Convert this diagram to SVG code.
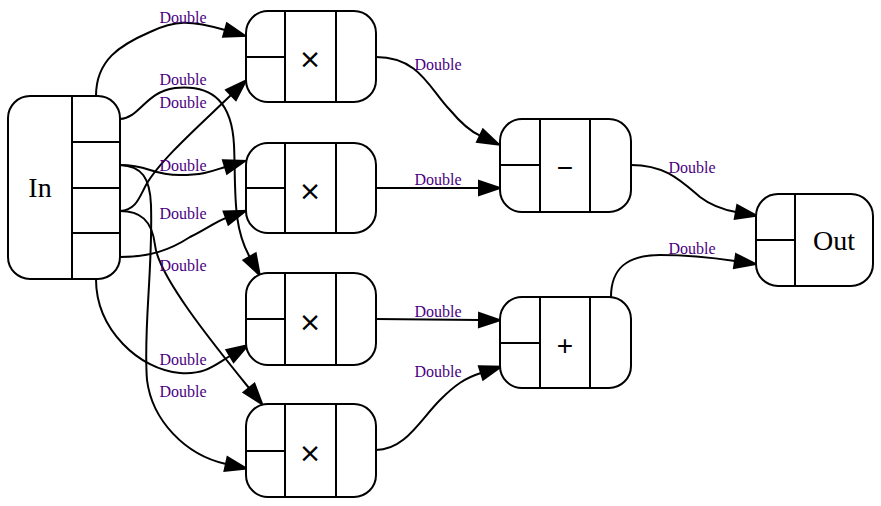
<svg xmlns="http://www.w3.org/2000/svg" width="881" height="506" viewBox="0 0 881 506">
<style>
.box{fill:#fff;stroke:#000;stroke-width:2}
.div{stroke:#000;stroke-width:2;fill:none}
.e{fill:none;stroke:#000;stroke-width:2;marker-end:url(#ah)}
.lbl{font-family:"Liberation Serif",serif;font-size:16px;fill:#4B0082;text-anchor:middle}
.big{font-family:"Liberation Serif",serif;font-size:28px;fill:#000;text-anchor:middle}
.op{font-family:"Liberation Sans",Arial,sans-serif;font-size:28px;fill:#000;text-anchor:middle}
.mul{font-family:"DejaVu Sans",sans-serif;font-size:27px;fill:#000;text-anchor:middle}
</style>
<defs>
<marker id="ah" markerUnits="userSpaceOnUse" markerWidth="24" markerHeight="18" refX="1" refY="8" orient="auto" viewBox="0 0 24 16" overflow="visible">
<path d="M1,1 L22,8 L1,15 z" fill="#000" stroke="#000" stroke-width="2"/>
</marker>
</defs>
<rect width="881" height="506" fill="#fff"/>

<g id="connectors">
<path class="e" d="M96,96 C96,60 120,45 150,32 C175,20 190,20 225,30"/>
<path class="e" d="M120,119 C140,118 145,92 175,88 C215,84 232,105 234,145 C236,190 232,225 249.6,256.8"/>
<path class="e" d="M120,211 C136,210 139,198 146,185 C160,160 200,125 231,95"/>
<path class="e" d="M120,165 C150,165 150,175 180,175 C205,175 215,170 225,167"/>
<path class="e" d="M120,165 C142,166 150,178 151,205 C153,270 143,330 147,380 C152,420 185,455 226,464"/>
<path class="e" d="M120,211 C140,211 152,220 155,245 C158,275 210,340 249,388"/>
<path class="e" d="M120,257 C150,257 170,250 190,237 C205,230 215,222 226,218"/>
<path class="e" d="M96,279 C96,330 140,370 180,373 C205,375 215,365 230,356"/>
<path class="e" d="M376,57 C420,57 430,90 450,110 C460,122 470,131 480,135.7"/>
<path class="e" d="M376,188 L479,188"/>
<path class="e" d="M376,319 L479,320"/>
<path class="e" d="M376,450 C405,450 420,420 440,400 C455,385 465,378 481,373"/>
<path class="e" d="M631,165 C665,165 680,180 700,197 C713,207 725,210 736,212"/>
<path class="e" d="M611,297 C611,270 625,255 660,255 C690,255 715,258 735,261"/>
<text class="lbl" x="183" y="23">Double</text>
<text class="lbl" x="183" y="85">Double</text>
<text class="lbl" x="183" y="108">Double</text>
<text class="lbl" x="183" y="171">Double</text>
<text class="lbl" x="183" y="219">Double</text>
<text class="lbl" x="183" y="271">Double</text>
<text class="lbl" x="183" y="365">Double</text>
<text class="lbl" x="183" y="397">Double</text>
<text class="lbl" x="438" y="70">Double</text>
<text class="lbl" x="438" y="185">Double</text>
<text class="lbl" x="438" y="317">Double</text>
<text class="lbl" x="438" y="377">Double</text>
<text class="lbl" x="692" y="173">Double</text>
<text class="lbl" x="692" y="254">Double</text>
</g>

<g id="in">
<rect class="box" x="8" y="96" width="112" height="183" rx="22"/>
<path class="div" d="M72,96 V279 M72,142 H120 M72,188 H120 M72,233 H120"/>
<text class="big" x="40" y="197">In</text>
</g>

<g id="mul1">
<rect class="box" x="246" y="11" width="130" height="91" rx="22"/>
<path class="div" d="M285,11 V102 M336,11 V102 M246,57 H285"/>
<text class="mul" x="310" y="68">×</text>
</g>
<g id="mul2">
<rect class="box" x="246" y="143" width="130" height="90" rx="22"/>
<path class="div" d="M285,143 V233 M336,143 V233 M246,188 H285"/>
<text class="mul" x="310" y="200">×</text>
</g>
<g id="mul3">
<rect class="box" x="246" y="273" width="130" height="92" rx="22"/>
<path class="div" d="M285,273 V365 M336,273 V365 M246,319 H285"/>
<text class="mul" x="310" y="331">×</text>
</g>
<g id="mul4">
<rect class="box" x="246" y="404" width="130" height="93" rx="22"/>
<path class="div" d="M285,404 V497 M336,404 V497 M246,451 H285"/>
<text class="mul" x="310" y="462">×</text>
</g>

<g id="minus">
<rect class="box" x="500" y="119" width="131" height="93" rx="22"/>
<path class="div" d="M540,119 V212 M590,119 V212 M500,165 H540"/>
<text class="op" x="565" y="177">−</text>
</g>
<g id="plus">
<rect class="box" x="500" y="297" width="131" height="91" rx="22"/>
<path class="div" d="M540,297 V388 M590,297 V388 M500,343 H540"/>
<text class="op" x="565" y="355">+</text>
</g>

<g id="out">
<rect class="box" x="756" y="194" width="117" height="92" rx="22"/>
<path class="div" d="M795,194 V286 M756,240 H795"/>
<text class="big" x="834" y="250">Out</text>
</g>
</svg>
